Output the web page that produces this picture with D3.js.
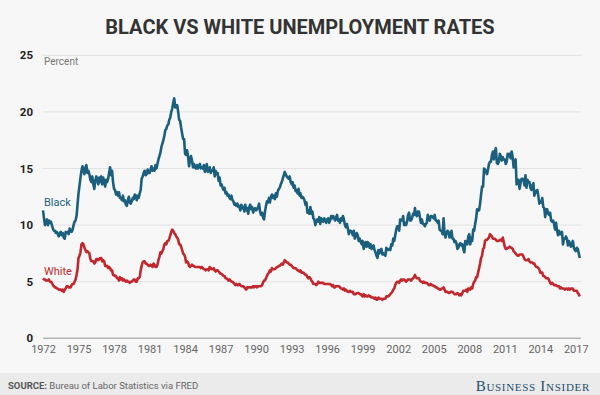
<!DOCTYPE html>
<html>
<head>
<meta charset="utf-8">
<script src="https://cdn.jsdelivr.net/npm/d3@7"></script>
<style>
  html, body { margin: 0; padding: 0; background: #f7f7f7; }
  svg { display: block; }
</style>
</head>
<body>
<svg id="chart" width="600" height="395"></svg>
<script>
// ---- DATA (monthly, Jan 1972 - May 2017) ----
const startYear = 1972;
const yTicks = [0, 5, 10, 15, 20, 25];
const xTickYears = [1972, 1975, 1978, 1981, 1984, 1987, 1990, 1993, 1996, 1999, 2002, 2005, 2008, 2011, 2014, 2017];
const seriesNames = ["Black", "White"];

const blackRate = [
  // 1972
  11.3, 10.6, 10.0, 10.3, 10.5, 10.0, 10.4, 10.2, 10.3, 10.0, 9.7, 9.5,
  // 1973
  9.5, 9.3, 9.4, 9.2, 9.0, 9.3, 9.4, 9.1, 9.3, 8.9, 8.8, 9.4,
  // 1974
  9.3, 9.4, 9.2, 9.7, 9.5, 9.4, 9.6, 10.0, 10.3, 10.4, 10.8, 11.8,
  // 1975
  12.8, 13.5, 14.2, 14.8, 15.2, 14.8, 14.5, 15.1, 15.3, 14.6, 14.8, 14.5,
  // 1976
  14.0, 13.8, 14.3, 13.6, 13.2, 13.9, 14.3, 14.0, 13.6, 14.2, 13.8, 14.3,
  // 1977
  13.6, 14.2, 13.9, 13.4, 14.0, 13.8, 14.1, 14.6, 15.1, 14.4, 14.8, 13.8,
  // 1978
  13.2, 13.1, 12.7, 12.9, 12.6, 12.9, 12.4, 12.4, 12.2, 12.6, 12.1, 12.2,
  // 1979
  11.8, 11.7, 12.2, 12.5, 12.0, 11.9, 12.1, 12.4, 12.3, 12.7, 12.6, 12.2,
  // 1980
  12.6, 12.4, 12.8, 13.1, 14.1, 14.3, 14.6, 14.8, 14.4, 14.5, 14.9, 14.6,
  // 1981
  14.6, 14.9, 15.2, 14.8, 15.0, 14.8, 15.3, 15.0, 15.4, 15.8, 16.1, 16.4,
  // 1982
  16.9, 17.2, 17.5, 17.9, 18.4, 18.5, 18.8, 18.9, 19.3, 19.5, 20.0, 20.3,
  // 1983
  20.8, 21.2, 20.4, 20.4, 20.6, 20.0, 19.3, 19.2, 18.6, 18.1, 17.6, 17.6,
  // 1984
  16.3, 16.2, 16.6, 16.1, 15.2, 15.7, 16.1, 15.7, 15.1, 15.4, 15.1, 15.0,
  // 1985
  15.3, 15.0, 15.2, 15.4, 15.0, 15.1, 15.0, 15.3, 14.7, 15.0, 15.4, 14.7,
  // 1986
  14.8, 15.1, 14.6, 14.8, 14.8, 15.1, 14.3, 14.8, 14.5, 14.6, 13.9, 14.2,
  // 1987
  13.5, 13.6, 13.3, 13.1, 13.3, 12.8, 12.9, 12.6, 12.7, 12.4, 12.3, 12.6,
  // 1988
  12.2, 12.1, 11.8, 11.9, 11.7, 11.9, 11.6, 11.7, 11.3, 11.8, 11.5, 11.6,
  // 1989
  11.2, 11.8, 11.3, 11.5, 11.0, 11.6, 11.8, 11.4, 11.6, 11.1, 11.4, 11.5,
  // 1990
  11.3, 11.4, 11.6, 11.9, 11.2, 10.9, 11.1, 10.7, 10.5, 11.2, 11.7, 12.1,
  // 1991
  12.0, 12.4, 12.0, 12.5, 12.7, 12.4, 12.6, 12.3, 12.8, 12.5, 13.0, 13.2,
  // 1992
  13.3, 13.6, 13.8, 14.1, 14.4, 14.7, 14.5, 14.3, 14.2, 14.1, 14.3, 13.8,
  // 1993
  13.6, 13.8, 13.3, 13.5, 13.0, 13.1, 12.8, 13.2, 12.6, 12.8, 12.4, 12.5,
  // 1994
  12.4, 12.2, 11.8, 12.0, 11.1, 11.3, 11.0, 11.6, 11.0, 11.2, 10.6, 10.5,
  // 1995
  10.0, 10.3, 10.5, 10.3, 10.7, 10.1, 10.6, 10.4, 10.3, 10.6, 10.4, 10.2,
  // 1996
  10.5, 10.6, 10.2, 10.4, 10.8, 10.6, 10.8, 10.6, 10.4, 10.7, 10.9, 10.4,
  // 1997
  10.5, 10.2, 10.6, 10.4, 10.8, 10.5, 10.0, 9.8, 10.1, 9.7, 9.2, 9.5,
  // 1998
  9.5, 9.4, 9.1, 9.5, 8.8, 9.0, 9.3, 9.1, 8.6, 8.8, 8.5, 8.3,
  // 1999
  8.6, 7.9, 8.3, 8.5, 8.1, 8.5, 8.4, 8.0, 8.3, 7.9, 8.1, 8.2,
  // 2000
  7.8, 7.6, 7.3, 7.1, 7.8, 7.5, 7.8, 7.9, 7.4, 7.5, 7.4, 7.3,
  // 2001
  8.0, 7.8, 7.8, 7.9, 7.8, 8.3, 8.2, 8.8, 8.6, 9.1, 9.6, 9.9,
  // 2002
  9.9, 9.5, 10.5, 10.4, 10.4, 10.8, 10.0, 10.2, 10.0, 10.3, 10.9, 11.1,
  // 2003
  10.4, 10.4, 10.6, 11.0, 10.9, 11.5, 10.9, 10.8, 11.2, 11.2, 10.7, 10.2,
  // 2004
  10.5, 10.1, 10.1, 9.9, 10.1, 10.2, 10.9, 10.5, 10.4, 10.8, 10.8, 10.7,
  // 2005
  10.6, 10.9, 10.4, 10.4, 10.2, 10.4, 9.6, 9.5, 9.5, 9.2, 10.6, 9.2,
  // 2006
  8.9, 9.3, 9.5, 9.4, 8.9, 9.0, 9.5, 8.8, 8.8, 8.5, 8.6, 8.4,
  // 2007
  7.9, 8.0, 8.3, 8.4, 8.2, 8.3, 7.9, 7.6, 8.6, 8.4, 8.3, 9.0,
  // 2008
  9.2, 8.3, 8.9, 8.6, 9.6, 9.5, 10.1, 10.6, 11.4, 11.3, 11.3, 11.9,
  // 2009
  12.7, 13.4, 13.4, 15.0, 14.9, 14.7, 14.5, 14.9, 15.4, 15.6, 15.6, 16.2,
  // 2010
  16.5, 15.8, 16.5, 16.8, 15.5, 15.4, 15.6, 16.3, 16.1, 15.7, 16.0, 15.8,
  // 2011
  15.8, 15.4, 15.6, 16.3, 16.1, 16.3, 15.9, 16.5, 16.0, 15.1, 15.5, 15.8,
  // 2012
  13.6, 14.0, 14.0, 13.2, 13.7, 14.1, 14.1, 14.0, 13.5, 14.4, 13.3, 14.0,
  // 2013
  13.8, 13.8, 13.3, 13.1, 13.5, 13.7, 12.6, 13.0, 12.9, 13.1, 12.6, 11.9,
  // 2014
  12.1, 12.0, 12.4, 11.6, 11.5, 10.7, 11.4, 11.4, 11.0, 10.9, 11.1, 10.4,
  // 2015
  10.3, 10.4, 10.1, 9.6, 10.2, 9.5, 9.1, 9.5, 9.2, 9.2, 9.4, 8.3,
  // 2016
  8.8, 8.8, 9.0, 8.8, 8.2, 8.6, 8.4, 8.1, 8.3, 8.6, 8.0, 7.8,
  // 2017
  7.7, 8.0, 7.9, 7.5, 7.1
];

const whiteRate = [
  // 1972
  5.3, 5.2, 5.2, 5.1, 5.1, 5.1, 5.2, 5.0, 5.0, 4.9, 4.7, 4.6,
  // 1973
  4.5, 4.5, 4.4, 4.4, 4.3, 4.3, 4.3, 4.2, 4.3, 4.1, 4.3, 4.4,
  // 1974
  4.6, 4.6, 4.5, 4.5, 4.5, 4.7, 4.8, 4.8, 5.0, 5.2, 5.6, 6.1,
  // 1975
  7.1, 7.3, 7.6, 8.3, 8.4, 8.3, 8.0, 7.8, 7.6, 7.7, 7.6, 7.5,
  // 1976
  7.0, 6.8, 6.8, 6.8, 6.6, 6.7, 7.0, 7.0, 6.9, 7.0, 7.1, 7.1,
  // 1977
  6.8, 6.9, 6.8, 6.4, 6.4, 6.4, 6.2, 6.3, 6.2, 6.0, 6.0, 5.6,
  // 1978
  5.6, 5.5, 5.5, 5.3, 5.3, 5.1, 5.4, 5.2, 5.3, 5.1, 5.2, 5.1,
  // 1979
  5.0, 5.1, 5.0, 5.0, 4.9, 5.0, 5.0, 5.1, 5.2, 5.2, 5.0, 5.0,
  // 1980
  5.3, 5.3, 5.4, 6.0, 6.4, 6.7, 6.8, 6.8, 6.6, 6.6, 6.5, 6.4,
  // 1981
  6.4, 6.5, 6.4, 6.3, 6.6, 6.5, 6.3, 6.3, 6.5, 6.9, 7.2, 7.6,
  // 1982
  7.5, 7.7, 7.9, 8.3, 8.4, 8.3, 8.6, 8.6, 8.8, 9.1, 9.4, 9.6,
  // 1983
  9.5, 9.3, 9.2, 9.0, 8.9, 8.7, 8.3, 8.3, 8.1, 7.8, 7.5, 7.4,
  // 1984
  7.2, 6.7, 6.8, 6.7, 6.4, 6.3, 6.4, 6.5, 6.4, 6.4, 6.3, 6.3,
  // 1985
  6.3, 6.3, 6.3, 6.3, 6.2, 6.3, 6.2, 6.1, 6.1, 6.0, 6.1, 6.1,
  // 1986
  6.0, 6.3, 6.2, 6.1, 6.1, 6.2, 6.0, 5.9, 6.0, 6.0, 5.9, 5.8,
  // 1987
  5.7, 5.7, 5.6, 5.5, 5.5, 5.3, 5.3, 5.2, 5.1, 5.2, 5.1, 5.0,
  // 1988
  5.0, 4.9, 4.8, 4.7, 4.8, 4.7, 4.7, 4.8, 4.7, 4.6, 4.6, 4.6,
  // 1989
  4.5, 4.4, 4.3, 4.5, 4.5, 4.5, 4.5, 4.5, 4.5, 4.6, 4.5, 4.6,
  // 1990
  4.6, 4.5, 4.6, 4.6, 4.6, 4.6, 4.7, 4.9, 5.1, 5.1, 5.3, 5.5,
  // 1991
  5.7, 5.8, 6.0, 5.9, 6.2, 6.1, 6.1, 6.1, 6.2, 6.3, 6.3, 6.4,
  // 1992
  6.4, 6.5, 6.6, 6.5, 6.7, 6.9, 6.8, 6.7, 6.7, 6.6, 6.5, 6.5,
  // 1993
  6.4, 6.3, 6.2, 6.2, 6.2, 6.1, 6.0, 6.0, 5.9, 6.0, 5.8, 5.8,
  // 1994
  5.8, 5.7, 5.6, 5.6, 5.4, 5.3, 5.4, 5.3, 5.1, 5.0, 4.8, 4.8,
  // 1995
  4.8, 4.7, 4.8, 5.0, 4.9, 4.9, 4.9, 4.9, 4.9, 4.8, 4.8, 4.8,
  // 1996
  4.8, 4.8, 4.8, 4.8, 4.7, 4.6, 4.7, 4.5, 4.5, 4.6, 4.6, 4.6,
  // 1997
  4.6, 4.5, 4.4, 4.4, 4.3, 4.4, 4.2, 4.3, 4.2, 4.1, 4.1, 4.2,
  // 1998
  4.1, 4.1, 4.1, 3.9, 3.9, 3.9, 4.0, 4.0, 4.0, 3.9, 3.9, 3.8,
  // 1999
  3.7, 3.9, 3.7, 3.8, 3.7, 3.7, 3.8, 3.7, 3.7, 3.6, 3.6, 3.6,
  // 2000
  3.5, 3.6, 3.4, 3.4, 3.6, 3.5, 3.5, 3.5, 3.4, 3.5, 3.5, 3.5,
  // 2001
  3.7, 3.7, 3.7, 3.8, 3.9, 4.0, 4.1, 4.3, 4.4, 4.7, 4.9, 5.0,
  // 2002
  5.0, 4.9, 5.1, 5.2, 5.1, 5.2, 5.2, 5.1, 5.0, 5.1, 5.2, 5.2,
  // 2003
  5.2, 5.1, 5.2, 5.3, 5.4, 5.6, 5.4, 5.3, 5.3, 5.3, 5.1, 5.0,
  // 2004
  5.0, 4.9, 5.0, 4.9, 4.9, 4.9, 4.8, 4.7, 4.7, 4.8, 4.7, 4.7,
  // 2005
  4.6, 4.6, 4.5, 4.5, 4.4, 4.4, 4.3, 4.3, 4.4, 4.4, 4.5, 4.3,
  // 2006
  4.1, 4.1, 4.1, 4.0, 4.0, 4.1, 4.1, 4.1, 4.0, 3.9, 3.9, 3.9,
  // 2007
  4.0, 3.9, 3.8, 3.9, 3.8, 4.0, 4.2, 4.2, 4.2, 4.3, 4.1, 4.4,
  // 2008
  4.4, 4.3, 4.5, 4.4, 4.8, 5.0, 5.1, 5.4, 5.4, 5.8, 6.2, 6.6,
  // 2009
  7.1, 7.3, 7.9, 8.0, 8.6, 8.7, 8.7, 8.8, 8.9, 9.2, 9.1, 9.0,
  // 2010
  8.8, 8.8, 8.8, 8.7, 8.6, 8.6, 8.6, 8.7, 8.7, 8.6, 8.9, 8.5,
  // 2011
  8.1, 7.9, 7.9, 8.0, 8.0, 8.1, 8.0, 8.0, 7.9, 7.7, 7.6, 7.5,
  // 2012
  7.4, 7.3, 7.3, 7.4, 7.4, 7.4, 7.4, 7.2, 7.0, 6.9, 6.9, 6.9,
  // 2013
  7.0, 6.8, 6.7, 6.7, 6.7, 6.6, 6.6, 6.4, 6.3, 6.3, 6.2, 6.1,
  // 2014
  5.8, 5.8, 5.8, 5.5, 5.5, 5.4, 5.3, 5.3, 5.3, 5.1, 4.9, 4.8,
  // 2015
  4.9, 4.8, 4.7, 4.7, 4.7, 4.6, 4.6, 4.6, 4.4, 4.5, 4.4, 4.4,
  // 2016
  4.4, 4.3, 4.4, 4.4, 4.3, 4.4, 4.3, 4.4, 4.4, 4.4, 4.2, 4.2,
  // 2017
  4.2, 4.2, 4.0, 3.9, 3.7
];

// ---- CHART ----
const svg = d3.select("#chart");
const W = 600, H = 395;

svg.append("rect").attr("width", W).attr("height", H).attr("fill", "#f7f7f7");

// Title
svg.append("text")
  .attr("x", 300).attr("y", 34)
  .attr("text-anchor", "middle")
  .attr("font-family", "Roboto, 'Noto Sans', sans-serif")
  .attr("font-weight", "bold")
  .attr("font-size", 20)
  .attr("fill", "#333333")
  .text("BLACK VS WHITE UNEMPLOYMENT RATES");

const x = d3.scaleLinear().domain([1972, 2017]).range([43, 575.8]);
const y = d3.scaleLinear().domain([0, 25]).range([338.3, 55.3]);

// Gridlines
const grid = svg.append("g");
grid.selectAll("line").data(yTicks.filter(d => d > 0)).join("line")
  .attr("x1", 43).attr("x2", 581)
  .attr("y1", d => y(d)).attr("y2", d => y(d))
  .attr("stroke", "#e2e2e2").attr("stroke-width", 1);

// Baseline
svg.append("line")
  .attr("x1", 43).attr("x2", 581)
  .attr("y1", y(0)).attr("y2", y(0))
  .attr("stroke", "#b5b5b5").attr("stroke-width", 1.5);

// Y axis labels
const yAxis = d3.axisLeft(y).tickValues(yTicks).tickSize(0).tickPadding(0).tickFormat(d3.format("d"));
const yg = svg.append("g").attr("transform", "translate(33,0)").call(yAxis);
yg.select(".domain").remove();
yg.selectAll("text")
  .attr("font-family", "Roboto, 'Noto Sans', sans-serif")
  .attr("font-weight", "bold")
  .attr("font-size", 11.5)
  .attr("fill", "#222");

// X axis labels
const xAxis = d3.axisBottom(x).tickValues(xTickYears).tickSize(0).tickPadding(0).tickFormat(d3.format("d"));
const xg = svg.append("g").attr("transform", "translate(0,345)").call(xAxis);
xg.select(".domain").remove();
xg.selectAll("text")
  .attr("font-family", "Roboto, 'Noto Sans', sans-serif")
  .attr("font-size", 11)
  .attr("fill", "#666");

// "Percent"
svg.append("text")
  .attr("x", 44).attr("y", 64.5)
  .attr("font-family", "Roboto, 'Noto Sans', sans-serif")
  .attr("font-size", 10)
  .attr("fill", "#777")
  .text("Percent");

// Lines
const line = d3.line()
  .x((d, i) => x(startYear + i / 12))
  .y(d => y(d));

const colors = { Black: "#1a5f7e", White: "#c1272d" };

svg.append("path").datum(whiteRate)
  .attr("d", line).attr("fill", "none")
  .attr("stroke", colors.White).attr("stroke-width", 2.6)
  .attr("stroke-linejoin", "round");

svg.append("path").datum(blackRate)
  .attr("d", line).attr("fill", "none")
  .attr("stroke", colors.Black).attr("stroke-width", 2.6)
  .attr("stroke-linejoin", "round");

// Series labels
svg.append("text")
  .attr("x", 44).attr("y", 206)
  .attr("font-family", "Roboto, 'Noto Sans', sans-serif")
  .attr("font-size", 11)
  .attr("fill", colors.Black)
  .text(seriesNames[0]);

svg.append("text")
  .attr("x", 44).attr("y", 275)
  .attr("font-family", "Roboto, 'Noto Sans', sans-serif")
  .attr("font-size", 11)
  .attr("fill", colors.White)
  .text(seriesNames[1]);

// Footer
svg.append("rect").attr("x", 0).attr("y", 373).attr("width", W).attr("height", 22).attr("fill", "#ebebeb");

const src = svg.append("text")
  .attr("x", 8).attr("y", 389)
  .attr("font-family", "Roboto, 'Noto Sans', sans-serif")
  .attr("font-size", 9.5)
  .attr("fill", "#666");
src.append("tspan").attr("font-weight", "bold").attr("fill", "#555").text("SOURCE: ");
src.append("tspan").text("Bureau of Labor Statistics via FRED");

svg.append("text")
  .attr("x", 590).attr("y", 390.5)
  .attr("text-anchor", "end")
  .attr("font-family", "'Liberation Serif', 'DejaVu Serif', serif")
  .attr("font-size", 15)
  .attr("font-variant", "small-caps")
  .attr("letter-spacing", 0.7)
  .attr("fill", "#1d4d6e")
  .text("Business Insider");
</script>
</body>
</html>
